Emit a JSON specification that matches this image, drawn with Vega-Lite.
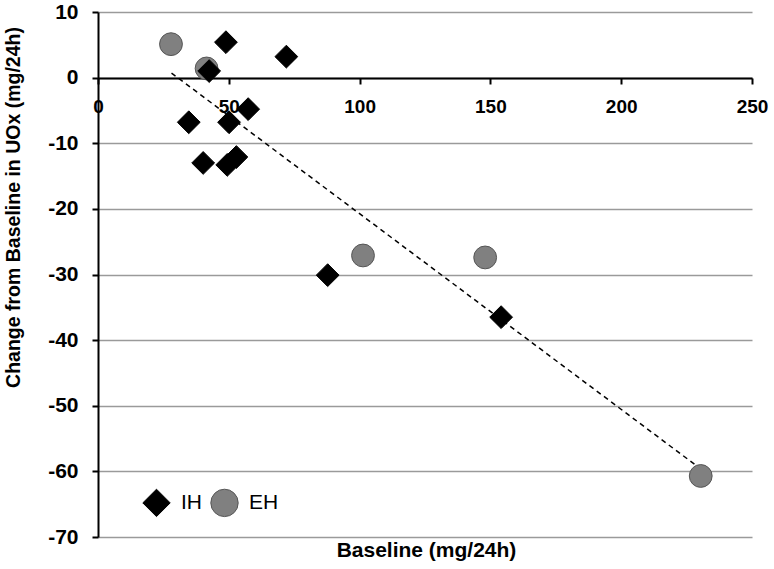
{
  "$schema": "https://vega.github.io/schema/vega-lite/v6.json",
  "width": 654,
  "height": 525,
  "autosize": "none",
  "padding": {"left": 98, "top": 12, "right": 22, "bottom": 32},
  "background": "white",
  "config": {"view": {"stroke": null}},
  "datasets": {
    "pts": [
      {"baseline": 48.9, "change": 5.4, "group": "IH"},
      {"baseline": 72, "change": 3.2, "group": "IH"},
      {"baseline": 57.4, "change": -4.8, "group": "IH"},
      {"baseline": 34.7, "change": -6.8, "group": "IH"},
      {"baseline": 50.1, "change": -6.8, "group": "IH"},
      {"baseline": 40.2, "change": -13.0, "group": "IH"},
      {"baseline": 52.9, "change": -12.1, "group": "IH"},
      {"baseline": 49.4, "change": -13.3, "group": "IH"},
      {"baseline": 87.8, "change": -30.1, "group": "IH"},
      {"baseline": 154.1, "change": -36.5, "group": "IH"},
      {"baseline": 27.9, "change": 5.1, "group": "EH"},
      {"baseline": 41.5, "change": 1.4, "group": "EH"},
      {"baseline": 101.3, "change": -27.1, "group": "EH"},
      {"baseline": 148, "change": -27.4, "group": "EH"},
      {"baseline": 230.4, "change": -60.7, "group": "EH"},
      {"baseline": 42.5, "change": 1.0, "group": "IH"}
    ],
    "trend": [
      {"baseline": 28.1, "change": 0.7},
      {"baseline": 229, "change": -59.2}
    ]
  },
  "layer": [
    {
      "data": {"name": "trend"},
      "mark": {"type": "line", "color": "black", "strokeDash": [5, 4], "strokeWidth": 1.5},
      "encoding": {
        "x": {"field": "baseline", "type": "quantitative"},
        "y": {"field": "change", "type": "quantitative"}
      }
    },
    {
      "data": {"name": "pts"},
      "mark": {"type": "point", "filled": true, "opacity": 1, "size": 520, "strokeWidth": 1},
      "encoding": {
        "x": {
          "field": "baseline",
          "type": "quantitative",
          "scale": {"domain": [0, 250], "nice": false, "zero": false},
          "axis": {
            "values": [0, 50, 100, 150, 200, 250],
            "offset": -459,
            "domainColor": "black",
            "domainWidth": 2,
            "tickColor": "black",
            "tickWidth": 2,
            "tickSize": 6,
            "grid": false,
            "labelFont": "Liberation Sans",
            "labelFontWeight": "bold",
            "labelFontSize": 19,
            "labelColor": "black",
            "labelPadding": 13,
            "labelFlush": false,
            "title": "Baseline (mg/24h)",
            "titleFont": "Liberation Sans",
            "titleFontWeight": "bold",
            "titleFontSize": 21,
            "titleColor": "black",
            "titleX": 328,
            "titleY": 472,
            "titleBaseline": "middle"
          }
        },
        "y": {
          "field": "change",
          "type": "quantitative",
          "scale": {"domain": [-70, 10], "nice": false, "zero": false},
          "axis": {
            "values": [-70, -60, -50, -40, -30, -20, -10, 0, 10],
            "labelExpr": "replace(datum.label, '\u2212', '-')",
            "domainColor": "black",
            "domainWidth": 2,
            "tickColor": "black",
            "tickWidth": 2,
            "tickSize": 6,
            "grid": true,
            "gridColor": "#9a9a9a",
            "gridWidth": 1.5,
            "labelFont": "Liberation Sans",
            "labelFontWeight": "bold",
            "labelFontSize": 21,
            "labelColor": "black",
            "labelPadding": 14,
            "title": "Change from Baseline in UOx (mg/24h)",
            "titleFont": "Liberation Sans",
            "titleFontWeight": "bold",
            "titleFontSize": 19.5,
            "titleColor": "black",
            "titleX": -85,
            "titleY": 195,
            "titleAngle": -90,
            "titleBaseline": "middle"
          }
        },
        "shape": {
          "field": "group",
          "type": "nominal",
          "scale": {"domain": ["IH", "EH"], "range": ["diamond", "circle"]},
          "legend": {
            "title": null,
            "orient": "none",
            "direction": "horizontal",
            "legendX": 44,
            "legendY": 476,
            "symbolSize": 750,
            "labelFont": "Liberation Sans",
            "labelFontSize": 21,
            "labelColor": "black",
            "labelOffset": 10,
            "columnPadding": 6,
            "symbolStrokeWidth": 1,
            "symbolOpacity": 1
          }
        },
        "color": {
          "field": "group",
          "type": "nominal",
          "scale": {"domain": ["IH", "EH"], "range": ["#000000", "#808080"]},
          "legend": {
            "title": null,
            "orient": "none",
            "direction": "horizontal",
            "legendX": 44,
            "legendY": 476,
            "symbolSize": 750,
            "labelFont": "Liberation Sans",
            "labelFontSize": 21,
            "labelColor": "black",
            "labelOffset": 10,
            "columnPadding": 6,
            "symbolStrokeWidth": 1,
            "symbolOpacity": 1
          }
        },
        "stroke": {
          "field": "group",
          "type": "nominal",
          "scale": {"domain": ["IH", "EH"], "range": ["#000000", "#555555"]},
          "legend": {
            "title": null,
            "orient": "none",
            "direction": "horizontal",
            "legendX": 44,
            "legendY": 476,
            "symbolSize": 750,
            "labelFont": "Liberation Sans",
            "labelFontSize": 21,
            "labelColor": "black",
            "labelOffset": 10,
            "columnPadding": 6,
            "symbolStrokeWidth": 1,
            "symbolOpacity": 1
          }
        }
      }
    }
  ]
}
